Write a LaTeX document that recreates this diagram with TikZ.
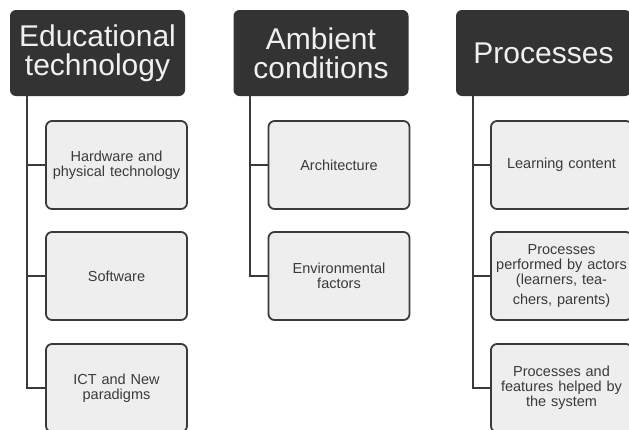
\documentclass[tikz,border=0pt]{standalone}
\usepackage{fontspec}
\setmainfont{Liberation Sans}
\definecolor{headgray}{HTML}{333333}
\definecolor{boxgray}{HTML}{EEEEEE}
\definecolor{edgegray}{HTML}{3A3A3A}
\usetikzlibrary{positioning}

\begin{document}
\begin{tikzpicture}[x=1pt, y=-1pt,
  head/.style={fill=headgray, rounded corners=6pt, text=white!94!black,
               minimum width=175pt, minimum height=86pt, align=center,
               font=\fontsize{30}{29}\selectfont, inner sep=0pt},
  leaf/.style={draw=edgegray, line width=1.8pt, fill=boxgray, rounded corners=6pt,
               minimum width=141pt, minimum height=88pt, text width=136pt,
               align=center, font=\fontsize{14.5}{15}\selectfont,
               text=edgegray, inner sep=0pt},
  link/.style={draw=edgegray, line width=1.8pt}
]
\useasboundingbox (0,0) rectangle (629,429);

% column headers
\node[head] (edu) at (97.5,53) {Educational\\technology};
\node[head] (amb) at (321,53) {Ambient\\conditions};
\node[head] (proc) at (543.5,53) {Processes};

% educational technology
\node[leaf] (hw) at (116.5,165) {Hardware and\\physical technology};
\node[leaf] (sw) at (116.5,276) {Software};
\node[leaf] (ict) at (116.5,388) {ICT and New\\paradigms};

% ambient conditions
\node[leaf] (arch) at (339,165) {Architecture};
\node[leaf] (env) at (339,276) {Environmental\\factors};

% processes
\node[leaf] (learn) at (561.5,165) {Learning content};
\node[leaf] (actors) at (561.5,276) {Processes\\performed by actors\\(learners, tea-\\[5pt]chers, parents)};
\node[leaf] (sys) at (561.5,388) {Processes and\\features helped by\\the system};

% tree lines
\draw[link] ([xshift=17pt]edu.south west) |- (hw.west);
\draw[link] ([xshift=17pt]edu.south west) |- (sw.west);
\draw[link] ([xshift=17pt]edu.south west) |- (ict.west);
\draw[link] ([xshift=17pt]amb.south west) |- (arch.west);
\draw[link] ([xshift=17pt]amb.south west) |- (env.west);
\draw[link] ([xshift=17pt]proc.south west) |- (learn.west);
\draw[link] ([xshift=17pt]proc.south west) |- (actors.west);
\draw[link] ([xshift=17pt]proc.south west) |- (sys.west);
\end{tikzpicture}
\end{document}
